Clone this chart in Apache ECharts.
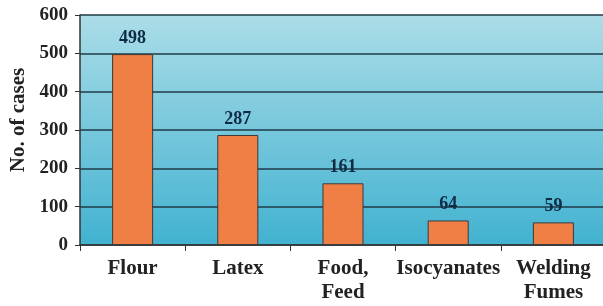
<!DOCTYPE html>
<html>
<head>
<meta charset="utf-8">
<title>Cases</title>
<style>
    html,body{margin:0;padding:0;background:#fff;}
</style>
</head>
<body>
<script src="https://cdn.jsdelivr.net/npm/echarts@6/dist/echarts.min.js"></script>
<div id="main" style="width:603px;height:306px;"></div>
<script type="text/javascript">
    // categories and values
    var categories = ['Flour', 'Latex', 'Food,\nFeed', 'Isocyanates', 'Welding\nFumes'];
    var cases = [498, 287, 161, 64, 59];
    var yTicks = [0, 100, 200, 300, 400, 500, 600];

    var serif = '"Liberation Serif", "DejaVu Serif", serif';
    var myChart = echarts.init(document.getElementById('main'));

    myChart.setOption({
        animation: false,
        grid: {
            left: 80, right: -3, top: 15, bottom: 61,
            outerBoundsMode: 'none',
            containLabel: false,
            show: true,
            borderWidth: 0,
            backgroundColor: {
                type: 'linear', x: 0, y: 0, x2: 0, y2: 1,
                colorStops: [
                    { offset: 0, color: '#abdde8' },
                    { offset: 1, color: '#42b2d0' }
                ]
            }
        },
        xAxis: {
            type: 'category',
            data: categories,
            axisLine: { lineStyle: { color: '#333', width: 1.5 } },
            axisTick: { show: true, length: 6, lineStyle: { color: '#333' } },
            axisLabel: {
                color: '#222', fontFamily: serif, fontWeight: 'bold', fontSize: 21,
                lineHeight: 24, margin: 12, interval: 0
            }
        },
        yAxis: {
            type: 'value',
            min: 0, max: 600, interval: 100,
            name: 'No. of cases',
            nameLocation: 'middle',
            nameGap: 51,
            nameTextStyle: {
                color: '#222', fontFamily: serif, fontWeight: 'bold', fontSize: 21,
                padding: [0, 0, 0, 20]
            },
            axisLine: { show: true, lineStyle: { color: '#333', width: 1.5 } },
            axisTick: { show: true, length: 5, lineStyle: { color: '#333' } },
            axisLabel: {
                color: '#222', fontFamily: serif, fontWeight: 'bold', fontSize: 19, margin: 12,
                formatter: function (v) { return yTicks.indexOf(v) >= 0 ? String(v) : ''; }
            },
            splitLine: { lineStyle: { color: '#1e3b48', width: 1.5 } }
        },
        series: [{
            type: 'bar',
            data: cases,
            barWidth: '39%',
            itemStyle: { color: '#f07f46', borderColor: '#3a3a3a', borderWidth: 1 },
            label: {
                show: true, position: 'top', distance: 7,
                color: '#0f2a44', fontFamily: serif, fontWeight: 'bold', fontSize: 18
            }
        }]
    });
</script>
</body>
</html>
